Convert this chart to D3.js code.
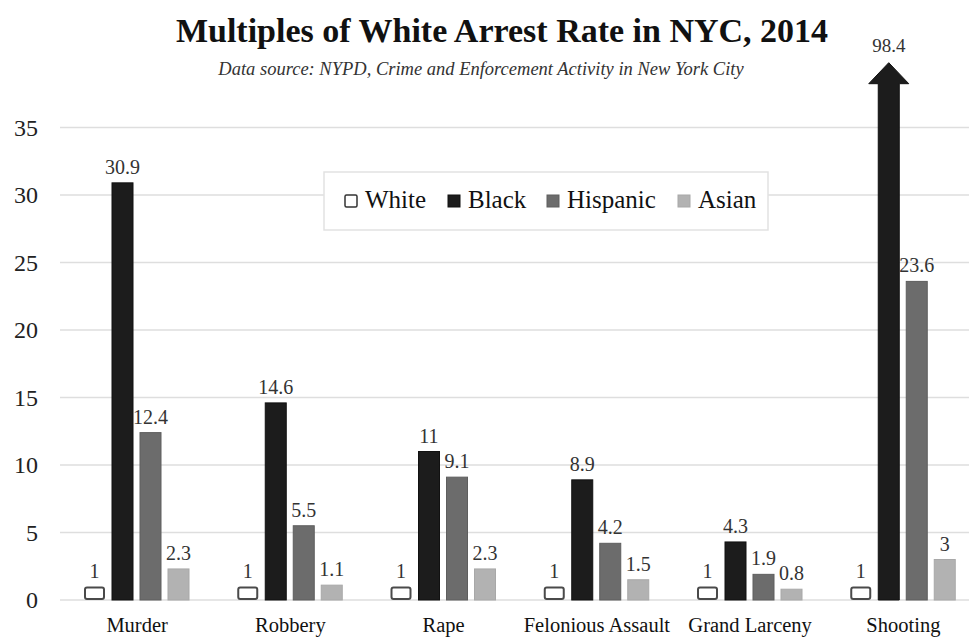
<!DOCTYPE html>
<html>
<head>
<meta charset="utf-8">
<script src="https://cdn.jsdelivr.net/npm/d3@7/dist/d3.min.js"></script>
<style>
  html, body { margin: 0; padding: 0; background: #fff; }
  svg { display: block; font-family: "Liberation Serif", "DejaVu Serif", serif; }
</style>
</head>
<body>
<svg id="chart" width="969" height="637"></svg>
<script>
// Arrest rate as a multiple of the white arrest rate, NYC 2014
const categories = ["Murder", "Robbery", "Rape", "Felonious Assault", "Grand Larceny", "Shooting"];
const seriesNames = ["White", "Black", "Hispanic", "Asian"];
const white    = [1, 1, 1, 1, 1, 1];
const black    = [30.9, 14.6, 11, 8.9, 4.3, 98.4];
const hispanic = [12.4, 5.5, 9.1, 4.2, 1.9, 23.6];
const asian    = [2.3, 1.1, 2.3, 1.5, 0.8, 3];
const yTicks   = [0, 5, 10, 15, 20, 25, 30, 35];

// values above the axis top are drawn as an arrow capped at this height
const arrowCap = 39.8;

const seriesValues = { White: white, Black: black, Hispanic: hispanic, Asian: asian };
const fills   = { White: "#ffffff", Black: "#1c1c1c", Hispanic: "#6c6c6c", Asian: "#b2b2b2" };
const strokes = { White: "#4a4a4a", Black: "#111", Hispanic: "#5e5e5e", Asian: "#a8a8a8" };

const svg = d3.select("#chart");

const x0 = d3.scaleBand().domain(categories).range([60.5, 980]).padding(0);
const x1 = d3.scaleBand().domain(seriesNames).range([23.5, 128.5]).paddingInner(0.25).paddingOuter(0);
const y  = d3.scaleLinear().domain([0, 35]).range([600, 127.5]);

// gridlines
svg.append("g")
  .selectAll("line")
  .data(yTicks)
  .join("line")
  .attr("x1", 60).attr("x2", 969)
  .attr("y1", d => y(d)).attr("y2", d => y(d))
  .attr("stroke", "#dedede").attr("stroke-width", 1.5);

// y-axis tick labels
svg.append("g")
  .selectAll("text")
  .data(yTicks)
  .join("text")
  .attr("x", 38).attr("y", d => y(d))
  .attr("dy", "0.35em")
  .attr("text-anchor", "end")
  .attr("font-size", 24)
  .attr("fill", "#222")
  .text(d => d);

// bars
const rows = categories.map((c, i) => ({
  cat: c,
  bars: seriesNames.map(s => ({ cat: c, series: s, value: seriesValues[s][i] }))
}));

const groups = svg.append("g")
  .selectAll("g")
  .data(rows)
  .join("g")
  .attr("transform", d => `translate(${x0(d.cat)},0)`);

const bw = x1.bandwidth();

groups.each(function(row) {
  const g = d3.select(this);
  row.bars.forEach(b => {
    const bx = x1(b.series);
    if (b.value > 35) {
      // off-scale value: arrow pointing up
      const top = y(arrowCap);
      const neck = top + 21;
      const cx = bx + bw / 2;
      const hw = 20;
      const path = d3.path();
      path.moveTo(bx, y(0));
      path.lineTo(bx, neck);
      path.lineTo(cx - hw, neck);
      path.lineTo(cx, top);
      path.lineTo(cx + hw, neck);
      path.lineTo(bx + bw, neck);
      path.lineTo(bx + bw, y(0));
      path.closePath();
      g.append("path")
        .attr("d", path.toString())
        .attr("fill", fills[b.series])
        .attr("stroke", strokes[b.series]).attr("stroke-width", 1);
      g.append("text")
        .attr("x", cx).attr("y", top - 11)
        .attr("text-anchor", "middle")
        .attr("font-size", 19).attr("fill", "#333")
        .text(b.value);
    } else {
      const isWhite = b.series === "White";
      g.append("rect")
        .attr("x", isWhite ? bx + 1 : bx)
        .attr("y", isWhite ? y(b.value) + 1 : y(b.value))
        .attr("width", isWhite ? bw - 2 : bw)
        .attr("height", isWhite ? y(0) - y(b.value) - 2 : y(0) - y(b.value))
        .attr("rx", isWhite ? 2 : 0)
        .attr("fill", fills[b.series])
        .attr("stroke", strokes[b.series])
        .attr("stroke-width", isWhite ? 2 : 1);
      g.append("text")
        .attr("x", bx + bw / 2).attr("y", y(b.value) - 9)
        .attr("text-anchor", "middle")
        .attr("font-size", 20).attr("fill", "#333")
        .text(b.value);
    }
  });
});

// category labels
svg.append("g")
  .selectAll("text")
  .data(categories)
  .join("text")
  .attr("x", d => x0(d) + x0.bandwidth() / 2)
  .attr("y", 632)
  .attr("text-anchor", "middle")
  .attr("font-size", 20.5)
  .attr("fill", "#111")
  .text(d => d);

// title and source
svg.append("text")
  .attr("x", 502).attr("y", 42)
  .attr("text-anchor", "middle")
  .attr("font-size", 34).attr("font-weight", "bold")
  .attr("fill", "#111")
  .text("Multiples of White Arrest Rate in NYC, 2014");

svg.append("text")
  .attr("x", 481).attr("y", 75)
  .attr("text-anchor", "middle")
  .attr("font-size", 18.5).attr("font-style", "italic")
  .attr("fill", "#333")
  .text("Data source: NYPD, Crime and Enforcement Activity in New York City");

// legend
const legend = svg.append("g").attr("transform", "translate(324,172)");
legend.append("rect")
  .attr("width", 444).attr("height", 58)
  .attr("fill", "#fff").attr("stroke", "#e2e2e2").attr("stroke-width", 1.5);

const legendX = [21, 124, 223, 354];
seriesNames.forEach((s, i) => {
  const item = legend.append("g").attr("transform", `translate(${legendX[i]},0)`);
  item.append("rect")
    .attr("x", 0).attr("y", 23).attr("width", 12).attr("height", 12)
    .attr("rx", s === "White" ? 1.5 : 0)
    .attr("fill", fills[s]).attr("stroke", s === "White" ? "#333" : strokes[s])
    .attr("stroke-width", s === "White" ? 1.5 : 1);
  item.append("text")
    .attr("x", 20).attr("y", 36)
    .attr("font-size", 25).attr("fill", "#111")
    .text(s);
});
</script>
</body>
</html>
